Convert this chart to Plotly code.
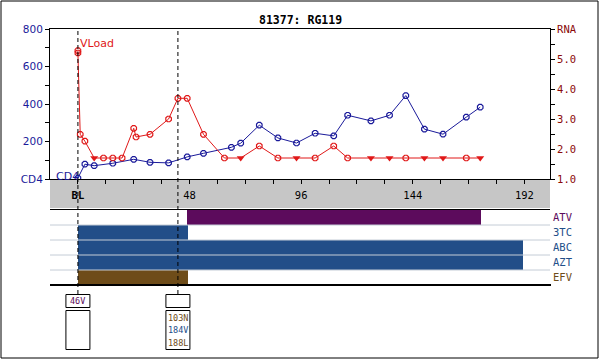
import plotly.graph_objects as go

W, H = 600, 360

# ---------------- data ----------------
cd4_weeks = [0, 3, 7, 15, 24, 31, 39, 47, 54, 66, 70, 78, 86, 94, 102, 110, 116, 126, 134, 141, 149, 157, 167, 173]
cd4_values = [5, 79, 71, 84, 105, 89, 86, 118, 137, 169, 191, 287, 219, 192, 244, 230, 340, 310, 340, 445, 266, 239, 330, 383]

vl_weeks = [0, 0, 1, 3, 7, 11, 15, 19, 24, 25, 31, 39, 43, 47, 54, 63, 70, 78, 86, 94, 102, 110, 116, 126, 134, 141, 149, 157, 167, 173]
vl_log = [5.28, 5.20, 2.49, 2.26, 1.70, 1.70, 1.70, 1.70, 2.69, 2.40, 2.49, 3.00, 3.69, 3.69, 2.49, 1.70, 1.70, 2.10, 1.70, 1.70,
          1.70, 2.10, 1.70, 1.70, 1.70, 1.70, 1.70, 1.70, 1.70, 1.70]
vl_below_limit = [False, False, False, False, True, False, False, False, False, False, False, False, False, False, False, False,
                  True, False, False, True, False, False, False, True, True, False, True, True, False, True]

drugs = ["ATV", "3TC", "ABC", "AZT", "EFV"]
drug_start = [47, 0, 0, 0, 0]
drug_end = [173.5, 47.5, 191.5, 191.5, 47.5]
drug_colors = ["#5c0b5c", "#224e88", "#224e88", "#224e88", "#6e4c19"]

x_tick_vals = list(range(0, 204, 12))
x_tick_text = ["<b>BL</b>" if v == 0 else (str(v) if v % 48 == 0 else "") for v in x_tick_vals]
cd4_tick_vals = list(range(0, 801, 100))
cd4_tick_text = ["CD4" if v == 0 else (str(v) if v % 200 == 0 else "") for v in cd4_tick_vals]
rna_tick_vals = [1.0, 1.5, 2.0, 2.5, 3.0, 3.5, 4.0, 4.5, 5.0, 5.5, 6.0]
rna_tick_text = ["1.0", "", "2.0", "", "3.0", "", "4.0", "", "5.0", "", "RNA"]

event_weeks = [0, 43]
mut_top = [["46V"], []]
mut_top_colors = [["#5c0b5c"], []]
mut_bottom = [[], ["103N", "184V", "188L"]]
mut_bottom_colors = [[], ["#6e4c19", "#224e88", "#6e4c19"]]

title_text = "81377: RG119"

# ---------------- helpers ----------------
def px_x(p):
    return p / W

def px_y(p):
    return 1 - p / H

CD4_COLOR = "#1a1a9a"
VL_COLOR = "#e01818"
RNA_LABEL = "#8b0a0a"
XR = [-12, 203]

fig = go.Figure()

# viral load (right axis)
fig.add_trace(go.Scatter(
    x=vl_weeks, y=vl_log, mode="lines", line=dict(color=VL_COLOR, width=1),
    xaxis="x", yaxis="y3", hoverinfo="skip", showlegend=False))
vx_o = [w for w, b in zip(vl_weeks, vl_below_limit) if not b]
vy_o = [v for v, b in zip(vl_log, vl_below_limit) if not b]
vx_t = [w for w, b in zip(vl_weeks, vl_below_limit) if b]
vy_t = [v for v, b in zip(vl_log, vl_below_limit) if b]
fig.add_trace(go.Scatter(
    x=vx_o, y=vy_o, mode="markers",
    marker=dict(symbol="octagon-open", size=6, color=VL_COLOR, line=dict(width=1.2)),
    xaxis="x", yaxis="y3", showlegend=False))
fig.add_trace(go.Scatter(
    x=vx_t, y=vy_t, mode="markers",
    marker=dict(symbol="triangle-down", size=7, color=VL_COLOR, line=dict(width=0)),
    xaxis="x", yaxis="y3", showlegend=False))

# CD4 (left axis)
fig.add_trace(go.Scatter(
    x=cd4_weeks, y=cd4_values, mode="lines+markers",
    line=dict(color=CD4_COLOR, width=1),
    marker=dict(symbol="octagon-open", size=6, color=CD4_COLOR, line=dict(width=1.2)),
    xaxis="x", yaxis="y", showlegend=False))

# treatment bars
for d, s, e, c in zip(drugs, drug_start, drug_end, drug_colors):
    fig.add_trace(go.Bar(
        y=[d], x=[e - s], base=[s], orientation="h", marker=dict(color=c, line=dict(width=0)),
        xaxis="x2", yaxis="y2", showlegend=False, width=1.0))

shapes = []
# gray x-axis band
shapes.append(dict(type="rect", xref="paper", yref="paper", x0=px_x(50), x1=px_x(550),
                   y0=px_y(208), y1=px_y(180), fillcolor="#c6c6c6", line=dict(width=0), layer="below"))
# row separators
for yy in [0.5, 1.5, 2.5, 3.5]:
    shapes.append(dict(type="line", xref="paper", yref="y2", x0=px_x(50), x1=px_x(550), y0=yy, y1=yy,
                       line=dict(color="#c4ccd6", width=1), layer="above"))
# thicker bottom border of treatment panel
shapes.append(dict(type="line", xref="paper", yref="paper", x0=px_x(50), x1=px_x(551),
                   y0=px_y(285), y1=px_y(285), line=dict(color="black", width=2)))
# dashed event lines
for w in event_weeks:
    shapes.append(dict(type="line", xref="x", yref="paper", x0=w, x1=w, y0=px_y(294), y1=px_y(29),
                       line=dict(color="black", width=1, dash="4px,3px"), layer="above"))
    # mutation boxes
    shapes.append(dict(type="rect", xref="x", yref="paper", xsizemode="pixel", xanchor=w, x0=-12, x1=12,
                       y0=px_y(307.5), y1=px_y(294.5), line=dict(color="black", width=1), fillcolor="white"))
    shapes.append(dict(type="rect", xref="x", yref="paper", xsizemode="pixel", xanchor=w, x0=-12, x1=12,
                       y0=px_y(349.5), y1=px_y(310.5), line=dict(color="black", width=1), fillcolor="white"))
# outer frame
shapes.append(dict(type="rect", xref="paper", yref="paper", x0=px_x(1), x1=px_x(598),
                   y0=px_y(358), y1=px_y(1), line=dict(color="black", width=1)))

annotations = []
annotations.append(dict(text="<b>" + title_text + "</b>", xref="paper", yref="paper", x=0.5, y=px_y(20),
                        showarrow=False, font=dict(family="DejaVu Sans Mono", size=11.5, color="black"),
                        xanchor="center", yanchor="middle"))
annotations.append(dict(text="VLoad", xref="x", yref="paper", x=0.2, y=px_y(43), xanchor="left", yanchor="middle",
                        showarrow=False, font=dict(family="DejaVu Sans", size=11, color=VL_COLOR)))
annotations.append(dict(text="CD4", xref="paper", yref="paper", x=px_x(54), y=px_y(176), xanchor="left",
                        yanchor="middle", showarrow=False, font=dict(family="DejaVu Sans", size=11, color=CD4_COLOR)))
for w, tops, tcols, bots, bcols in zip(event_weeks, mut_top, mut_top_colors, mut_bottom, mut_bottom_colors):
    for i, (t, c) in enumerate(zip(tops, tcols)):
        annotations.append(dict(text=t, xref="x", yref="paper", x=w, y=px_y(301), showarrow=False,
                                xanchor="center", yanchor="middle",
                                font=dict(family="DejaVu Sans Mono", size=8.5, color=c)))
    for i, (t, c) in enumerate(zip(bots, bcols)):
        annotations.append(dict(text=t, xref="x", yref="paper", x=w, y=px_y(317.5 + 12.7 * i), showarrow=False,
                                xanchor="center", yanchor="middle",
                                font=dict(family="DejaVu Sans Mono", size=8.5, color=c)))

drug_tick_text = ['<span style="color:%s">%s</span>' % (c, d) for d, c in zip(drugs, drug_colors)]

fig.update_layout(
    width=W, height=H, margin=dict(l=0, r=0, t=0, b=0, autoexpand=False),
    paper_bgcolor="white", plot_bgcolor="white",
    barmode="overlay", bargap=0,
    xaxis=dict(domain=[px_x(50), px_x(550)], range=XR, anchor="y", automargin=False,
               tickmode="array", tickvals=x_tick_vals, ticktext=x_tick_text,
               ticks="outside", ticklen=4, tickcolor="black", showgrid=False, zeroline=False,
               showline=True, linecolor="black", linewidth=1, mirror=True,
               tickfont=dict(family="DejaVu Sans Mono", size=10.5, color="black"), ticklabelstandoff=2),
    yaxis=dict(domain=[px_y(179), px_y(29)], range=[0, 800], anchor="x", automargin=False,
               tickmode="array", tickvals=cd4_tick_vals, ticktext=cd4_tick_text,
               ticks="outside", ticklen=4, tickcolor="black", showgrid=False, zeroline=False,
               showline=True, linecolor="black", linewidth=1, mirror=True,
               tickfont=dict(family="DejaVu Sans", size=10.5, color=CD4_COLOR)),
    yaxis3=dict(range=[1, 6], overlaying="y", side="right", anchor="x", automargin=False,
                tickmode="array", tickvals=rna_tick_vals, ticktext=rna_tick_text,
                ticks="outside", ticklen=4, tickcolor="black", showgrid=False, zeroline=False,
                showline=False,
                tickfont=dict(family="DejaVu Sans Mono", size=10.5, color=RNA_LABEL)),
    xaxis2=dict(domain=[px_x(50), px_x(550)], range=XR, anchor="y2", automargin=False,
                showticklabels=False, ticks="", showgrid=False, zeroline=False,
                showline=True, linecolor="black", linewidth=1, mirror=True),
    yaxis2=dict(domain=[px_y(285), px_y(210)], anchor="x2", side="right", type="category", automargin=False,
                categoryorder="array", categoryarray=drugs[::-1], range=[-0.5, 4.5],
                tickmode="array", tickvals=drugs, ticktext=drug_tick_text,
                ticks="", showgrid=False, zeroline=False, showline=False, ticklabelstandoff=2,
                tickfont=dict(family="DejaVu Sans Mono", size=10.5)),
    shapes=shapes, annotations=annotations,
)

fig.write_html("out.html", config={"displayModeBar": False},
               post_script="document.body.style.margin='0';document.body.style.padding='0';")
